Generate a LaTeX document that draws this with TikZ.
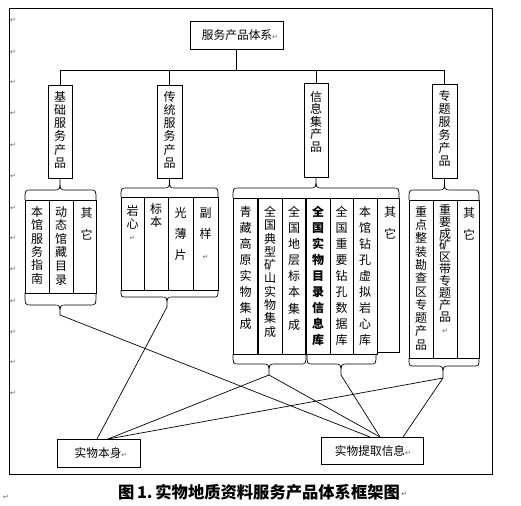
\documentclass[tikz,border=0pt]{standalone}
\usepackage{fontspec}
\setmainfont{Noto Sans CJK SC}
\newfontfamily\dvfont{DejaVu Sans}
\usetikzlibrary{calc}
\definecolor{pmgray}{gray}{0.4}
\newcommand{\pmk}{{\dvfont\fontsize{7}{7}\selectfont\textcolor{pmgray}{↵}}}
\newcommand{\tbrace}[7]{%
  \draw[brc] (#2,#5) .. controls (#2,#6) .. ({#2+6},#6) -- ({#4-6},#6) .. controls (#4,#6) .. (#4,#7) .. controls (#4,#6) .. ({#4+6},#6) -- ({#3-6},#6) .. controls (#3,#6) .. (#3,#5);
  \coordinate (#1) at (#4,#7);}
\newcommand{\tcell}[5]{\node[cellbox, minimum width={#3-#2}, minimum height={#5-#4}] (#1) at ({(#2+#3)/2},{(#4+#5)/2}) {};}
\tikzset{
  frame/.style={draw, line width=0.8pt},
  cellbox/.style={draw, line width=0.8pt, inner sep=0pt, outer sep=0pt},
  vtxt/.style={inner sep=0pt, align=center, anchor=north, font=\fontsize{12}{#1}\selectfont},
  htxt/.style={inner sep=0pt, font=\fontsize{11.7}{13}\selectfont},
  link/.style={line width=0.7pt},
  brc/.style={line width=0.7pt},
  pm/.style={inner sep=0pt},
}
\begin{document}
\begin{tikzpicture}[x=1pt,y=-1pt]
\useasboundingbox (0,0) rectangle (521,505);
\draw[frame] (9,8) rectangle (492,474);
% margin paragraph marks
\foreach \yy [count=\i] in {20,52,82,113,145,176,208,238,269,301,332,362,393}
  \node[pm] (pm\i) at (13,\yy) {\pmk};
\node[pm] (pmz) at (6,497) {\pmk};

% top box
\node[cellbox, minimum width=93, minimum height=28] (top) at (236.5,35) {};
\node[htxt] (topt) at (240,35) {服务产品体系\pmk};

% level-2 boxes
\node[cellbox, minimum width=24, minimum height=93] (l1) at (60,131.5) {};
\node[cellbox, minimum width=25, minimum height=93] (l2) at (169.5,131.5) {};
\node[cellbox, minimum width=24, minimum height=94] (l3) at (316,130) {};
\node[cellbox, minimum width=25, minimum height=94] (l4) at (444.5,131) {};
\node[vtxt=13.2] (l1t) at ($(l1.north)+(0,6)$) {基\\础\\服\\务\\产\\品};
\node[vtxt=13.2] (l2t) at ($(l2.north)+(0,6)$) {传\\统\\服\\务\\产\\品};
\node[vtxt=12.5] (l3t) at ($(l3.north)+(0,8)$) {信\\息\\集\\产\\品};
\node[vtxt=13] (l4t) at ($(l4.north)+(0,6)$) {专\\题\\服\\务\\产\\品};

% bus
\coordinate (bus) at (0,70);
\draw[link] (top.south) -- (top.south |- bus);
\draw[link] (l1.north) -- (l1.north |- bus) -- (l4.north |- bus) -- (l4.north);
\draw[link] (l2.north) -- (l2.north |- bus);
\draw[link] (l3.north) -- (l3.north |- bus);

% table 1
\tcell{c1a}{25}{49}{200}{293}
\tcell{c1b}{49}{73}{200}{293}
\tcell{c1c}{73}{96}{200}{293}
\node[vtxt=13.4] (t1a) at ($(c1a.north)+(0,6)$) {本\\馆\\服\\务\\指\\南};
\node[vtxt=13.6] (t1b) at ($(c1b.north)+(0,6)$) {动\\态\\馆\\藏\\目\\录};
\node[vtxt=22] (t1c) at ($(c1c.north)+(2,7)$) {其\\它};

% table 2
\tcell{c2a}{121}{144}{197}{290}
\tcell{c2b}{144}{168}{197}{290}
\tcell{c2c}{168}{193}{197}{290}
\tcell{c2d}{193}{218}{197}{290}
\node[vtxt=12.8] (t2a) at ($(c2a.north)+(0,8)$) {岩\\心\\\pmk};
\node[vtxt=13] (t2b) at ($(c2b.north)+(0,6)$) {标\\本};
\node[vtxt=21] (t2c) at ($(c2c.north)+(0,10)$) {光\\薄\\片};
\node[vtxt=21] (t2d) at ($(c2d.north)+(0,10)$) {副\\样\\\pmk};

% table 3
\tcell{c3a}{233}{258}{198}{354}
\tcell{c3b}{258}{282}{198}{354}
\tcell{c3c}{282}{306}{198}{354}
\tcell{c3d}{306}{330}{198}{354}
\tcell{c3e}{330}{353}{198}{354}
\tcell{c3f}{353}{377}{198}{354}
\tcell{c3g}{377}{399}{198}{352}
\draw[line width=1.5pt] (c3b.north west) -- (c3b.south west);
\draw[line width=1.5pt] (c3d.north west) -- (c3d.south west);
\node[vtxt=16.1] (t3a) at ($(c3a.north)+(0,8)$) {青\\藏\\高\\原\\实\\物\\集\\成};
\node[vtxt=13.3] (t3b) at ($(c3b.north)+(0,8)$) {全\\国\\典\\型\\矿\\山\\实\\物\\集\\成};
\node[vtxt=16.1] (t3c) at ($(c3c.north)+(0,8)$) {全\\国\\地\\层\\标\\本\\集\\成};
\node[vtxt=16, font=\bfseries\fontsize{12}{16}\selectfont] (t3d) at ($(c3d.north)+(0,8)$) {全\\国\\实\\物\\目\\录\\信\\息\\库};
\node[vtxt=16] (t3e) at ($(c3e.north)+(0,8)$) {全\\国\\重\\要\\钻\\孔\\数\\据\\库};
\node[vtxt=16] (t3f) at ($(c3f.north)+(0,8)$) {本\\馆\\钻\\孔\\虚\\拟\\岩\\心\\库};
\node[vtxt=22] (t3g) at ($(c3g.north)+(2,8)$) {其\\它};

% table 4
\tcell{c4a}{409}{433}{200}{358}
\tcell{c4b}{433}{457}{200}{358}
\tcell{c4c}{457}{479}{200}{358}
\node[vtxt=13.3] (t4a) at ($(c4a.north)+(0,6)$) {重\\点\\整\\装\\勘\\查\\区\\专\\题\\产\\品};
\node[vtxt=11.9] (t4b) at ($(c4b.north)+(0,4)$) {重\\要\\成\\矿\\区\\带\\专\\题\\产\\品\\\pmk};
\node[vtxt=22] (t4c) at ($(c4c.north)+(1,7)$) {其\\它};

% upper braces
\tbrace{ub1}{25}{96}{60}{200}{190}{178}
\tbrace{ub2}{121}{218}{169.5}{197}{188}{178}
\tbrace{ub3}{233}{399}{316}{198}{188}{177}
\tbrace{ub4}{409}{479}{444.5}{200}{190}{178}
% lower braces
\tbrace{br1}{25}{96}{60}{293}{305}{315}
\tbrace{br2}{121}{218}{167}{290}{297}{307}
\tbrace{brA}{233}{306}{269}{354}{364}{375}
\tbrace{brB}{307}{376}{341}{354}{364}{375}
\tbrace{brC}{409}{479}{443}{358}{366}{378}

% bottom boxes
\node[cellbox, minimum width=83, minimum height=28] (sw) at (98.5,453) {};
\node[htxt] (swt) at (101,453) {实物本身\pmk};
\node[cellbox, minimum width=102, minimum height=27] (si) at (372,450.5) {};
\node[htxt] (sit) at (373,451) {实物提取信息\pmk};
\coordinate (swA) at ($(sw.north west)+(40,0)$);
\coordinate (swB) at ($(sw.north west)+(51,0)$);
\coordinate (siA) at ($(si.north west)+(49,0)$);
\coordinate (siB) at ($(si.north west)+(59,0)$);
\coordinate (siC) at ($(si.north west)+(82,0)$);

% connectors
\draw[link] (br1) -- (siA);
\draw[link] (br2) -- (swA);
\draw[link] (brA) -- (swB);
\draw[link] (brA) -- (siB);
\draw[link] (brB) -- (siB);
\draw[link] (brC) -- (swB);
\draw[link] (brC) -- (siC);

% caption
\node[inner sep=0pt, font=\bfseries\fontsize{16.3}{16}\selectfont] (cap) at (259,492) {图\,1.\,实物地质资料服务产品体系框架图};
\node[pm, anchor=west] (capm) at ($(cap.east)+(1,2)$) {\pmk};
\end{tikzpicture}
\end{document}
